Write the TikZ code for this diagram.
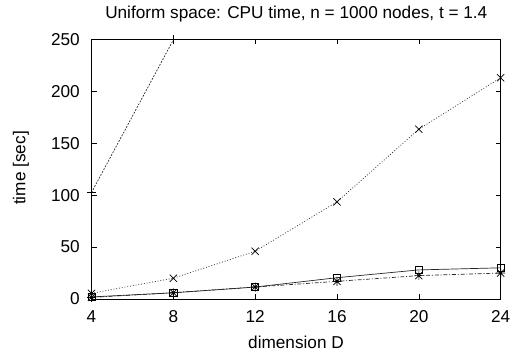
\documentclass[tikz,border=0pt]{standalone}
\usepackage{fontspec}
\setmainfont{Liberation Sans}
\begin{document}
\begin{tikzpicture}[
  x=1pt,y=1pt,
  lbl/.style={inner sep=0pt,font=\fontsize{17.2}{20}\selectfont},
  tck/.style={line width=0.6pt},
  ser/.style={line width=0.7pt,black!85},
  mk/.style={line width=0.7pt,black},
  mx/.pic={\draw[mk] (-3.6pt,-3.6pt)--(3.6pt,3.6pt) (-3.6pt,3.6pt)--(3.6pt,-3.6pt);},
  mplus/.pic={\draw[mk] (-4.5pt,0)--(4.5pt,0) (0,-4.5pt)--(0,4.5pt);},
  mstar/.pic={\draw[mk] (-3.6pt,-3.6pt)--(3.6pt,3.6pt) (-3.6pt,3.6pt)--(3.6pt,-3.6pt) (-4.5pt,0)--(4.5pt,0) (0,-4.5pt)--(0,4.5pt);},
  msq/.pic={\draw[mk] (-3.6pt,-3.6pt) rectangle (3.6pt,3.6pt);}
]
\useasboundingbox (0,0) rectangle (514,358);
\begin{scope}[shift={(9.66pt,59pt)},x=20.46pt,y=1.0388pt]
  % frame
  \coordinate (ll) at (4,0);
  \coordinate (ur) at (24,250);
  \draw[line width=0.8pt] (ll) rectangle (ur);
  % y ticks
  \foreach \v in {0,50,100,150,200,250}{
    \draw[tck] (4,\v) -- ++(5pt,0);
    \draw[tck] (24,\v) -- ++(-5pt,0);
    \node[lbl,anchor=east] (yl\v) at ([xshift=-11.5pt]4,\v) {\v};
  }
  % x ticks
  \foreach \v in {4,8,12,16,20,24}{
    \draw[tck] (\v,0) -- ++(0,5pt);
    \draw[tck] (\v,250) -- ++(0,-5pt);
    \node[lbl,anchor=base] (xl\v) at ([yshift=-23.7pt]\v,0) {\v};
  }
  % series A: steep, + markers
  \coordinate (a1) at (4,102.5);
  \coordinate (a2) at (8,249.5);
  \draw[ser,dash pattern=on 1.8pt off 1.4pt] (a1) -- (a2);
  \foreach \p in {a1,a2} \pic at (\p) {mplus};
  % series B: dotted, x markers
  \coordinate (b1) at (4,5.5);
  \coordinate (b2) at (8,20);
  \coordinate (b3) at (12,46);
  \coordinate (b4) at (16,93.5);
  \coordinate (b5) at (20,163.5);
  \coordinate (b6) at (24,213);
  \draw[ser,dash pattern=on 0.9pt off 1.9pt] (b1)--(b2)--(b3)--(b4)--(b5)--(b6);
  \foreach \p in {b1,b2,b3,b4,b5,b6} \pic at (\p) {mx};
  % series C: solid, squares
  \coordinate (c1) at (4,2);
  \coordinate (c2) at (8,6);
  \coordinate (c3) at (12,11.5);
  \coordinate (c4) at (16,20.5);
  \coordinate (c5) at (20,28);
  \coordinate (c6) at (24,30);
  \draw[ser] (c1)--(c2)--(c3)--(c4)--(c5)--(c6);
  \foreach \p in {c1,c2,c3,c4,c5,c6} \pic at (\p) {msq};
  % series D: dash-dot, stars
  \coordinate (d1) at (4,1.5);
  \coordinate (d2) at (8,6);
  \coordinate (d3) at (12,11.5);
  \coordinate (d4) at (16,17);
  \coordinate (d5) at (20,22.5);
  \coordinate (d6) at (24,25);
  \draw[ser,dash pattern=on 4pt off 1.8pt on 1pt off 1.8pt] (d1)--(d2)--(d3)--(d4)--(d5)--(d6);
  \foreach \p in {d1,d2,d3,d4,d5,d6} \pic at (\p) {mstar};
\end{scope}
\node[lbl,anchor=base] (title) at (296.3,339) {Uniform space: CPU time, n = 1000 nodes, t = 1.4};
\node[lbl,anchor=base] (xlab) at (296,9.7) {dimension D};
\node[lbl,rotate=90] (ylab) at (21,190) {time [sec]};
\end{tikzpicture}
\end{document}
